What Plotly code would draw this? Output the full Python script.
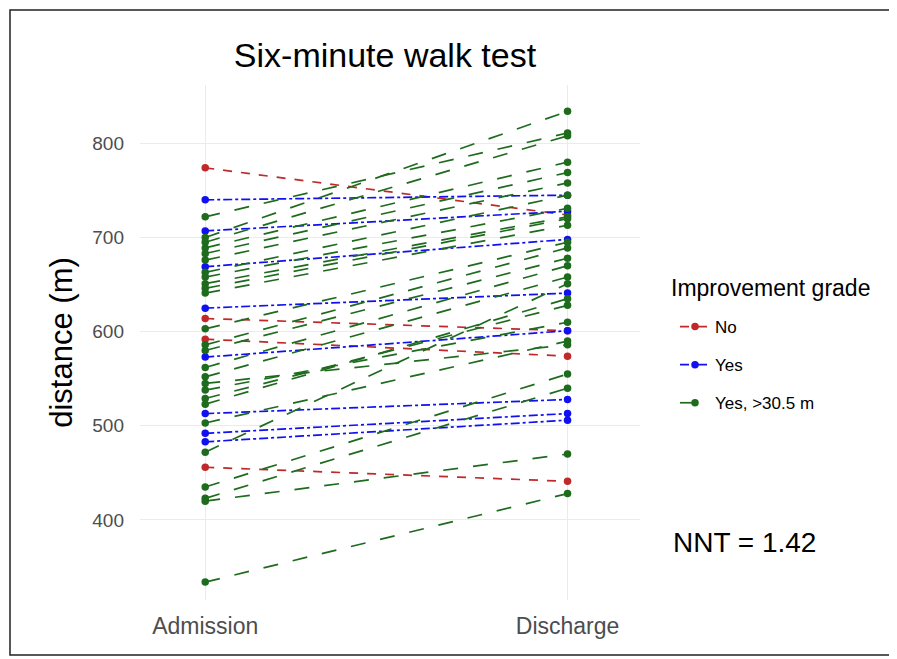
import plotly.graph_objects as go

categories = ["Admission", "Discharge"]

adm_no = [774, 614, 592, 456]
dis_no = [724, 601, 574, 441]

adm_yes = [740, 707, 669, 625, 573, 513, 492, 483]
dis_yes = [745, 728, 698, 641, 601, 528, 513, 506]

adm_big = [700, 722, 695, 689, 683, 676, 663, 658, 651, 646, 641, 603, 586, 580,
           562, 552, 545, 538, 529, 523, 503, 472, 435, 423, 420, 334]
dis_big = [834, 811, 808, 780, 769, 758, 745, 731, 722, 720, 713, 695, 689, 678,
           670, 658, 586, 610, 628, 635, 590, 651, 555, 540, 470, 428]

groups = [
    ("No", adm_no, dis_no, "#C0282A", "dash"),
    ("Yes", adm_yes, dis_yes, "#1010F0", "dashdot"),
    ("Yes, >30.5 m", adm_big, dis_big, "#1E6B1E", "longdash"),
]

fig = go.Figure()
for name, a, d, col, dash in groups:
    for i, (va, vd) in enumerate(zip(a, d)):
        fig.add_trace(go.Scatter(
            x=categories, y=[va, vd], mode="lines+markers",
            name=name, legendgroup=name, showlegend=(i == 0),
            line=dict(color=col, dash=dash, width=1.7),
            marker=dict(color=col, size=7.5),
        ))

font = "Liberation Sans, Arial, sans-serif"
L, R, T, B = 132, 265, 77, 67
W, H = 897, 659
pw, ph = W - L - R, H - T - B


def px(sx):
    return (sx - 8 - L) / pw


def py(sy):
    return (H - B - (sy - 8)) / ph


fig.update_layout(
    width=W, height=H,
    margin=dict(l=L, r=R, t=T, b=B),
    paper_bgcolor="white", plot_bgcolor="white",
    font=dict(family=font, color="#4d4d4d"),
    title=dict(text="Six-minute walk test", x=(385 - 8) / W, xanchor="center",
               y=1 - (55 - 8) / H, yanchor="middle",
               font=dict(size=34, color="black", family=font)),
    legend=dict(x=px(675), xanchor="left", y=py(365), yanchor="middle",
                font=dict(size=17, color="black"), tracegroupgap=13,
                itemwidth=30, bgcolor="rgba(0,0,0,0)"),
    showlegend=True,
)
fig.update_xaxes(type="category", range=[-0.18, 1.2], showgrid=True,
                 gridcolor="#ebebeb", gridwidth=1, zeroline=False, showline=False,
                 ticks="", ticklabelstandoff=10,
                 tickfont=dict(size=23, color="#4d4d4d"))
fig.update_yaxes(range=[315, 862], tickvals=[400, 500, 600, 700, 800], showgrid=True,
                 gridcolor="#ebebeb", gridwidth=1, zeroline=False, showline=False,
                 ticks="", ticklabelstandoff=15,
                 tickfont=dict(size=19, color="#4d4d4d"),
                 title=dict(text="distance (m)", font=dict(size=31, color="black"),
                            standoff=10))
fig.add_annotation(text="Improvement grade", xref="paper", yref="paper",
                   x=px(669), y=py(288), showarrow=False,
                   xanchor="left", yanchor="middle",
                   font=dict(size=23, color="black", family=font))
fig.add_annotation(text="NNT = 1.42", xref="paper", yref="paper",
                   x=px(744), y=py(542), showarrow=False,
                   xanchor="center", yanchor="middle",
                   font=dict(size=28, color="black", family=font))
fig.add_shape(type="rect", xref="paper", yref="paper",
              x0=px(10), x1=px(893), y0=py(655), y1=py(10),
              line=dict(color="#222", width=1.5), fillcolor="rgba(0,0,0,0)", layer="below")
fig.write_html("out.html")
